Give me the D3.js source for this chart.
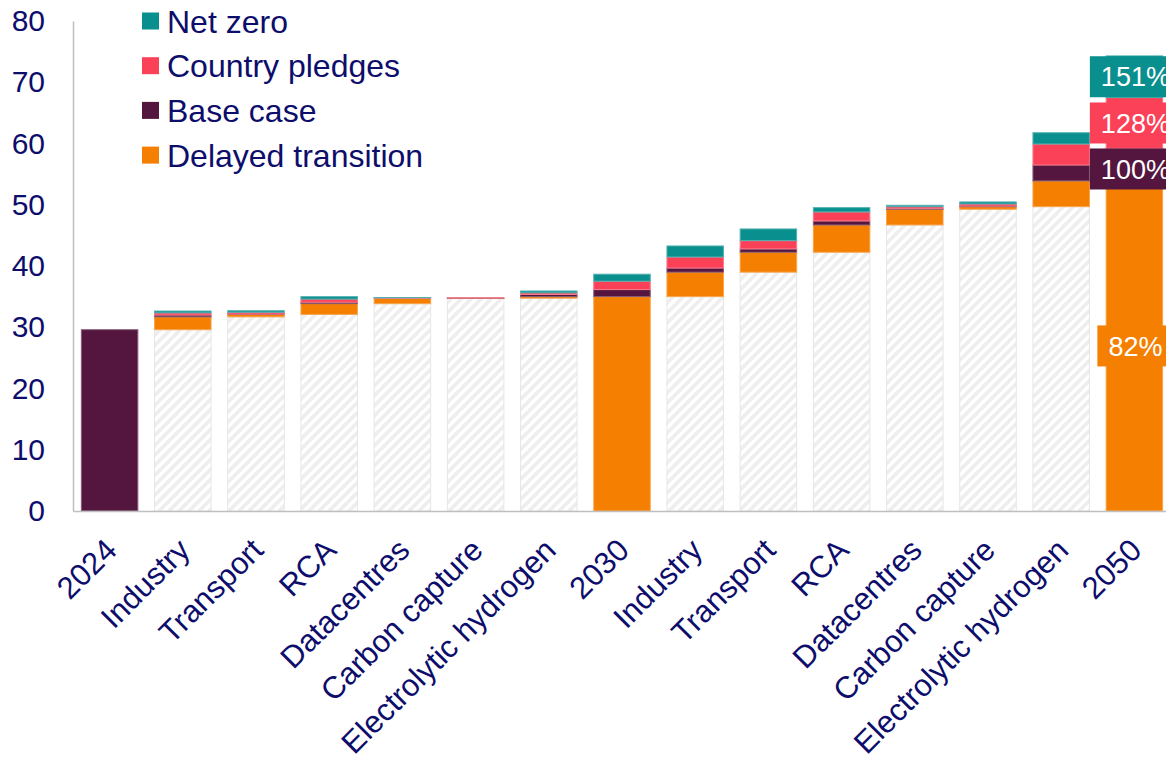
<!DOCTYPE html>
<html>
<head>
<meta charset="utf-8">
<script src="https://cdn.jsdelivr.net/npm/d3@7"></script>
<style>
  body { margin: 0; background: #ffffff; }
  svg text { font-family: "Liberation Sans", Arial, sans-serif; }
</style>
</head>
<body>
<svg id="chart" width="1166" height="762"></svg>
<script>
// Waterfall of demand: 2024 -> 2030 -> 2050, with sector steps in between.
const categories = ["2024", "Industry", "Transport", "RCA", "Datacentres", "Carbon capture",
  "Electrolytic hydrogen", "2030", "Industry", "Transport", "RCA", "Datacentres",
  "Carbon capture", "Electrolytic hydrogen", "2050"];

// Invisible (hatched) waterfall offset under each step bar
const hatchBase = [0, 29.6, 31.7, 32.1, 33.85, 34.7, 34.75, 0, 35.0, 39.0, 42.25, 46.7, 49.27, 49.69, 0];

// Segment heights per scenario, stacked bottom to top
const delayed  = [0,    2.1,  0.4,  1.75, 0.85, 0.05, 0.25, 35.0, 4.0,  3.25, 4.45, 2.57, 0.42, 4.2,  53.9];
const baseCase = [29.6, 0.3,  0.05, 0.25, 0.0,  0.02, 0.35, 1.15, 0.67, 0.54, 0.66, 0.15, 0.1,  2.6,  5.3];
const pledges  = [0,    0.35, 0.3,  0.5,  0.1,  0.03, 0.27, 1.37, 1.8,  1.35, 1.47, 0.27, 0.34, 3.43, 8.3];
const netZero  = [0,    0.3,  0.25, 0.4,  0.05, 0.0,  0.3,  1.14, 1.8,  1.91, 0.7,  0.22, 0.33, 1.84, 6.8];

const yTicks = [0, 10, 20, 30, 40, 50, 60, 70, 80];

const seriesKeys   = ["delayed", "baseCase", "pledges", "netZero"];
const seriesNames  = ["Delayed transition", "Base case", "Country pledges", "Net zero"];
const seriesColors = ["#f57f00", "#54163e", "#fb4158", "#0a8f8f"];

const textColor = "#0d0d6b";
const axisColor = "#bfbfbf";

const svg = d3.select("#chart");

const x = d3.scaleBand()
  .domain(d3.range(categories.length))
  .range([73, 73 + categories.length * 73.2])
  .paddingInner(0.228)
  .paddingOuter(0.114);

const y = d3.scaleLinear().domain([0, 80]).range([511, 21]);

// Diagonal hatch for the waterfall offsets
const defs = svg.append("defs");
const pat = defs.append("pattern")
  .attr("id", "hatch")
  .attr("patternUnits", "userSpaceOnUse")
  .attr("width", 10).attr("height", 10);
pat.append("rect").attr("width", 10).attr("height", 10).attr("fill", "#ffffff");
pat.append("path")
  .attr("d", "M-1,1 l2,-2 M0,10 l10,-10 M9,11 l2,-2")
  .attr("stroke", "#eeeeee")
  .attr("stroke-width", 3.6);

// Stack the rows
const rows = categories.map((c, i) => ({
  i,
  base: hatchBase[i],
  delayed: delayed[i],
  baseCase: baseCase[i],
  pledges: pledges[i],
  netZero: netZero[i]
}));
const stacked = d3.stack().keys(["base"].concat(seriesKeys))(rows);

const colorOf = d3.scaleOrdinal().domain(seriesKeys).range(seriesColors);

const bars = svg.append("g");
stacked.forEach(layer => {
  const isBase = layer.key === "base";
  bars.append("g")
    .selectAll("rect")
    .data(layer.filter(d => d[1] - d[0] > 0))
    .join("rect")
    .attr("x", d => x(d.data.i))
    .attr("width", x.bandwidth())
    .attr("y", d => y(d[1]))
    .attr("height", d => y(d[0]) - y(d[1]))
    .attr("fill", isBase ? "url(#hatch)" : colorOf(layer.key))
    .attr("stroke", isBase ? "#e6e6e6" : d3.interpolateRgb(colorOf(layer.key), "#ffffff")(0.3))
    .attr("stroke-width", 1);
});

// Y axis
const yAxis = svg.append("g")
  .attr("transform", "translate(73,0)")
  .call(d3.axisLeft(y).tickValues(yTicks).tickSize(0).tickPadding(28));
yAxis.select(".domain").attr("stroke", axisColor).attr("stroke-width", 1.5);
yAxis.selectAll("text")
  .attr("fill", textColor)
  .style("font-size", "30px");

// X axis
const xAxis = svg.append("g")
  .attr("transform", "translate(0,511)")
  .call(d3.axisBottom(x).tickSize(0).tickFormat(i => categories[i]));
xAxis.select(".domain").attr("stroke", axisColor).attr("stroke-width", 1.5);
xAxis.selectAll("text")
  .attr("x", 0).attr("y", 0).attr("dy", 0)
  .attr("transform", "translate(9,41) rotate(-45)")
  .style("text-anchor", "end")
  .attr("fill", textColor)
  .style("font-size", "31px");

// Percentage labels on the final bar (growth versus 2024)
const last = categories.length - 1;
const ref2024 = baseCase[0] + delayed[0];
const labelItems = seriesKeys.map((k, si) => {
  const layer = stacked.find(l => l.key === k);
  const seg = layer[last];
  return {
    color: seriesColors[si],
    mid: y((seg[0] + seg[1]) / 2),
    text: Math.round((seg[1] / ref2024 - 1) * 100) + "%"
  };
}).sort((a, b) => a.mid - b.mid);

const boxH = 41, gap = 5;
let prevBottom = -Infinity;
labelItems.forEach(d => {
  let top = d.mid - boxH / 2;
  if (top < prevBottom + gap) top = prevBottom + gap;
  d.top = top;
  prevBottom = top + boxH;
});

const cx = x(last) + x.bandwidth() / 2 + 1;
const lab = svg.append("g").selectAll("g").data(labelItems).join("g");
lab.append("rect").attr("fill", d => d.color);
lab.append("text")
  .attr("x", cx)
  .attr("y", d => d.top + boxH / 2)
  .attr("dy", "0.36em")
  .attr("text-anchor", "middle")
  .attr("fill", "#ffffff")
  .style("font-size", "27px")
  .text(d => d.text);
lab.each(function(d) {
  const g = d3.select(this);
  const w = g.select("text").node().getComputedTextLength() + 22;
  g.select("rect")
    .attr("x", cx - w / 2)
    .attr("y", d.top)
    .attr("width", w)
    .attr("height", boxH);
});

// Legend (top to bottom: Net zero ... Delayed transition)
const legendOrder = [3, 2, 1, 0];
const legend = svg.append("g").selectAll("g").data(legendOrder).join("g")
  .attr("transform", (d, i) => `translate(142,${21 + i * 44.7})`);
legend.append("rect")
  .attr("x", 0).attr("y", -8.5)
  .attr("width", 17).attr("height", 17)
  .attr("fill", d => seriesColors[d]);
legend.append("text")
  .attr("x", 25).attr("y", 0).attr("dy", "0.36em")
  .attr("fill", textColor)
  .style("font-size", "32px")
  .text(d => seriesNames[d]);
</script>
</body>
</html>
